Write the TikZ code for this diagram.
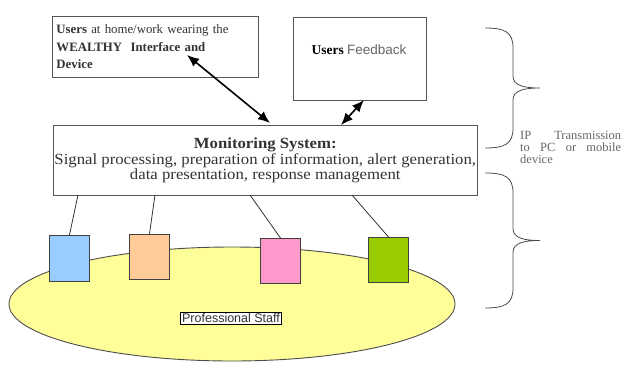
\documentclass[tikz,border=0pt]{standalone}
\usepackage{fontspec}
\setmainfont{Liberation Serif}
\setsansfont{Liberation Sans}
\newfontfamily\widefont[FakeStretch=1.08]{Liberation Serif}
\usepackage{xcolor}
\usepackage{tikz}
\usetikzlibrary{arrows.meta,shapes.geometric}

\definecolor{boxline}{HTML}{555555}
\definecolor{txtgray}{HTML}{333333}
\definecolor{blueish}{HTML}{99CCFF}
\definecolor{orangeish}{HTML}{FFCC99}
\definecolor{pinkish}{HTML}{FF99CC}
\definecolor{greenish}{HTML}{99CC00}
\definecolor{staffyellow}{HTML}{FFFF99}

\tikzset{
  infobox/.style={draw=boxline, line width=0.9pt, fill=white, inner sep=4pt, text=txtgray},
  staffbox/.style={draw=black!75, line width=0.9pt, minimum width=40pt, minimum height=46pt, inner sep=0pt},
  link/.style={draw=black!80, line width=0.8pt},
  twoway/.style={black, line width=1.6pt, {Latex[length=12pt,width=10pt]}-{Latex[length=12pt,width=10pt]}},
  bracepath/.style={draw=black!70, line width=0.8pt}
}

\begin{document}
\begin{tikzpicture}[x=1pt, y=-1pt]
    \useasboundingbox (0,0) rectangle (621,367);

    % Define nodes
    \node[draw=black!70, line width=0.9pt, fill=staffyellow, ellipse, minimum width=446pt, minimum height=114pt] (staff) at (232,304) {};
    \node[draw=black, line width=0.8pt, fill=white, inner sep=1.5pt, font=\sffamily\fontsize{12.5}{13}\selectfont, text=txtgray] (stafflabel) at (231,318) {Professional Staff};

    \node[infobox, anchor=north west, minimum width=206pt, minimum height=61pt, text width=198pt, align=left,
          font=\fontsize{12.8}{17.5}\selectfont] (users) at (52,16)
      {\textbf{Users} at home/work wearing the\\ \textbf{WEALTHY\ \ Interface and}\\ \textbf{Device}};
    \node[infobox, anchor=north west, minimum width=133pt, minimum height=83pt] (feedback) at (293,17) {};
    \node[font=\fontsize{13.5}{15}\selectfont] (fbtext) at (359,50) {\textbf{Users} {\sffamily\color{black!60}Feedback}};
    \node[infobox, anchor=north west, minimum width=422pt, minimum height=70pt, align=center, inner sep=1pt,
          font=\widefont\fontsize{15.5}{15.5}\selectfont] (mon) at (53,125)
      {\textbf{Monitoring System:}\\ Signal processing, preparation of information, alert generation,\\ data presentation, response management};

    \node[staffbox, fill=blueish, anchor=north west] (blue) at (49,235) {};
    \node[staffbox, fill=orangeish, anchor=north west, minimum height=45pt] (orange) at (129,234) {};
    \node[staffbox, fill=pinkish, anchor=north west, minimum height=45pt] (pink) at (260,238) {};
    \node[staffbox, fill=greenish, anchor=north west, minimum height=45pt] (green) at (368,237) {};

    \node[anchor=north west, text width=101pt, align=left, inner sep=0pt, text=black!60,
          font=\fontsize{12.5}{12}\selectfont] (iptext) at (520,131)
      {IP\hfill Transmission\\ to\hfill PC\hfill or\hfill mobile\\ device};

    % Link points on the monitoring box
    \coordinate (m1) at (78,195);
    \coordinate (m2) at (155,195);
    \coordinate (m3) at (250,195);
    \coordinate (m4) at (352,195);
    \coordinate (u1) at (187,55);
    \coordinate (m5) at (270,123);
    \coordinate (f1) at (364,100);
    \coordinate (m6) at (341,125);

    % Draw edges
    \draw[link] (m1) -- (blue.north);
    \draw[link] (m2) -- (orange.north);
    \draw[link] (m3) -- (pink.north);
    \draw[link] (m4) -- (green.north);
    \draw[twoway] (u1) -- (m5);
    \draw[twoway] (f1) -- (m6);

    % Braces
    \foreach \t/\b in {28/148, 173/308}{
      \draw[bracepath] (485,\t) .. controls (505,\t) and (513,\t+4) .. (513,\t+20)
        -- (513,{(\t+\b)/2-12}) .. controls (513,{(\t+\b)/2-2}) and (525,{(\t+\b)/2}) .. (540,{(\t+\b)/2})
        .. controls (525,{(\t+\b)/2}) and (513,{(\t+\b)/2+2}) .. (513,{(\t+\b)/2+12})
        -- (513,\b-20) .. controls (513,\b-4) and (505,\b) .. (485,\b);
    }
\end{tikzpicture}
\end{document}
